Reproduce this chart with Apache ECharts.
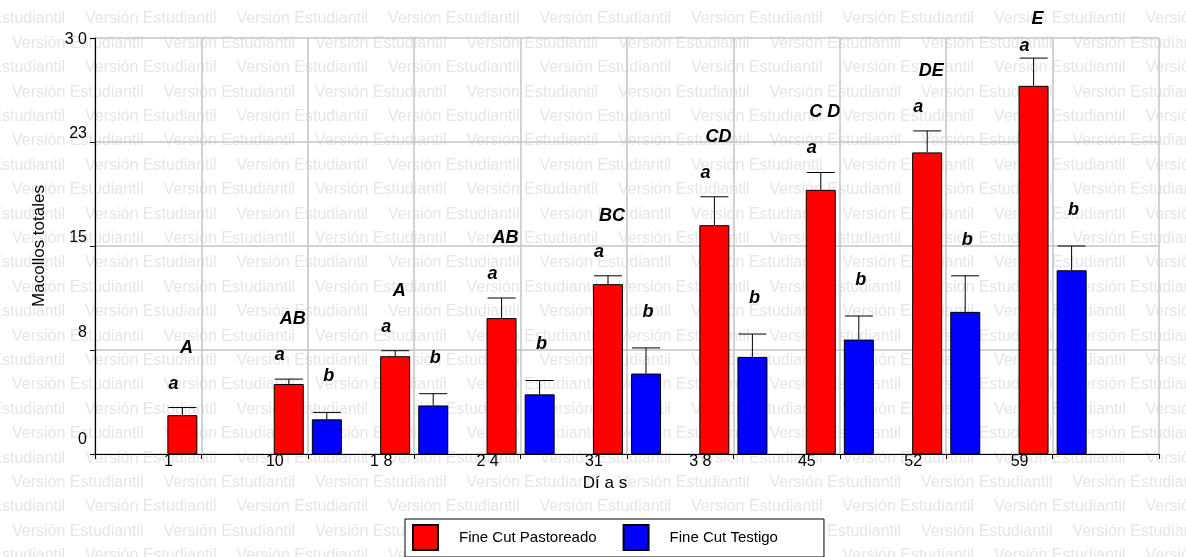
<!DOCTYPE html>
<html>
<head>
<meta charset="utf-8">
<script src="https://cdn.jsdelivr.net/npm/echarts@6/dist/echarts.min.js"></script>
<style>
  html, body { margin: 0; padding: 0; background: #fff; }
  #chart { width: 1186px; height: 557px; }
</style>
</head>
<body>
<div id="chart"></div>
<script>
// Sampling days and their printed tick labels
const days = [1, 10, 18, 24, 31, 38, 45, 52, 59];
const dayLabels = ['1', '10', '1 8', '2 4', '31', '3 8', '45', '52', '59'];
const yTickLabels = ['0', '8', '15', '23', '3 0'];

// Total tillers (mean and standard error) per treatment
const grazedMean = [2.8, 5.05, 7.05, 9.8, 12.25, 16.5, 19.05, 21.75, 26.55];
const grazedSE = [0.55, 0.35, 0.4, 1.45, 0.6, 2.05, 1.25, 1.55, 2.0];
const controlMean = [null, 2.5, 3.5, 4.3, 5.8, 7.0, 8.25, 10.25, 13.25];
const controlSE = [null, 0.5, 0.85, 1.0, 1.85, 1.65, 1.7, 2.6, 1.75];

// Significance letters
const grazedLetters = ['a', 'a', 'a', 'a', 'a', 'a', 'a', 'a', 'a'];
const controlLetters = [null, 'b', 'b', 'b', 'b', 'b', 'b', 'b', 'b'];
const dayLetters = ['A', 'AB', 'A', 'AB', 'BC', 'CD', 'C D', 'DE', 'E'];

const FONT = '"Liberation Sans", Arial, sans-serif';
const LETTER_FONT = 'italic bold 18px ' + FONT;

const categories = [''].concat(days.map(String), ['']);
const pad = arr => [null].concat(arr, [null]);

// Background "Versión Estudiantil" stamp rows
const stamp = [];
for (let r = 0; r < 23; r++) {
  const y = 19 + r * 24.4;
  const start = r % 2 === 0 ? 85 - 151.5 : 12;
  for (let x = start; x < 1186; x += 151.5) {
    stamp.push({
      type: 'text', x: x, y: y, z: -10, silent: true,
      style: { text: 'Versión Estudiantil', fill: '#e6e6e6', fontSize: 16, fontFamily: FONT, verticalAlign: 'middle' }
    });
  }
}

function errorRenderer(offset, means, ses, letters, groupLetters, letterLift) {
  return function (params, api) {
    const i = params.dataIndex;
    if (means[i] == null) return null;
    const base = api.coord([i + 1, means[i]]);
    const top = api.coord([i + 1, means[i] + ses[i]]);
    const cx = base[0] + offset;
    const line = { stroke: '#000', lineWidth: 1 };
    const children = [
      { type: 'line', shape: { x1: cx, y1: base[1], x2: cx, y2: top[1] }, style: line },
      { type: 'line', shape: { x1: cx - 14, y1: top[1], x2: cx + 14, y2: top[1] }, style: line }
    ];
    let letterY = top[1] - letterLift;
    if (groupLetters) {
      let groupY = letterY - 36;
      if (groupY < 19) { groupY = 19; letterY = Math.max(letterY, groupY + 27); }
      children.push({
        type: 'text', x: base[0] - 15, y: groupY,
        style: { text: groupLetters[i], font: LETTER_FONT, fill: '#000', align: 'center', verticalAlign: 'middle' }
      });
    }
    children.push({
      type: 'text', x: cx + (groupLetters ? -9 : 2), y: letterY,
      style: { text: letters[i], font: LETTER_FONT, fill: '#000', align: 'center', verticalAlign: 'middle' }
    });
    return { type: 'group', children: children };
  };
}

// Lift of each y tick label above its grid line
const yLabelRich = {};
[14, 17, 8, 8, -2].forEach((lift, k) => {
  yLabelRich['y' + k] = {
    fontSize: 16, fontFamily: FONT, color: '#000',
    padding: lift >= 0 ? [0, 0, lift * 2, 0] : [-lift * 2, 0, 0, 0]
  };
});

const chart = echarts.init(document.getElementById('chart'), null, { renderer: 'canvas' });
chart.setOption({
  animation: false,
  backgroundColor: '#fff',
  textStyle: { fontFamily: FONT },
  graphic: { elements: stamp },
  grid: { left: 95, right: 27, top: 38, bottom: 103, containLabel: false },
  legend: {
    left: 405, top: 519,
    padding: [5, 46, 6, 7],
    itemGap: 26,
    itemWidth: 25, itemHeight: 25,
    icon: 'rect',
    borderColor: '#000', borderWidth: 1,
    backgroundColor: '#fff',
    textStyle: { fontSize: 15, color: '#000', fontFamily: FONT, padding: [0, 0, 0, 16] },
    data: ['Fine Cut Pastoreado', 'Fine Cut Testigo']
  },
  xAxis: {
    type: 'category',
    data: categories,
    boundaryGap: false,
    name: 'Dí a s',
    nameLocation: 'middle',
    nameGap: 21,
    nameTextStyle: { fontSize: 17, color: '#000', fontFamily: FONT, padding: [0, 44, 0, 0], verticalAlign: 'top' },
    axisLine: { lineStyle: { color: '#000', width: 1 } },
    axisTick: { show: true, length: 5, interval: 0, lineStyle: { color: '#000' } },
    axisLabel: {
      interval: 0, margin: 0, fontSize: 16, color: '#000', fontFamily: FONT,
      padding: [0, 66, 0, 0],
      formatter: (v, idx) => (idx >= 1 && idx <= dayLabels.length ? dayLabels[idx - 1] : '')
    },
    splitLine: { show: true, interval: 0, lineStyle: { color: '#c4c4c4', width: 1.5 } }
  },
  yAxis: {
    type: 'value',
    min: 0, max: 30, interval: 7.5,
    name: 'Macollos totales',
    nameLocation: 'middle',
    nameRotate: 90,
    nameGap: 47,
    nameTextStyle: { fontSize: 17, color: '#000', fontFamily: FONT },
    axisLine: { show: true, lineStyle: { color: '#000', width: 1.2 } },
    axisTick: { show: true, length: 5, lineStyle: { color: '#000' } },
    axisLabel: {
      margin: 8,
      formatter: v => {
        const k = Math.round(v / 7.5);
        return '{y' + k + '|' + yTickLabels[k] + '}';
      },
      rich: yLabelRich
    },
    splitLine: { show: true, lineStyle: { color: '#c4c4c4', width: 1.5 } }
  },
  series: [
    {
      name: 'Fine Cut Pastoreado', type: 'bar',
      data: pad(grazedMean),
      barWidth: 30, barGap: '27%',
      itemStyle: { color: '#ff0000', borderColor: '#000', borderWidth: 1 }
    },
    {
      name: 'Fine Cut Testigo', type: 'bar',
      data: pad(controlMean),
      barWidth: 30, barGap: '27%',
      itemStyle: { color: '#0000ff', borderColor: '#000', borderWidth: 1 }
    },
    {
      type: 'custom', silent: true, z: 5,
      renderItem: errorRenderer(-19, grazedMean, grazedSE, grazedLetters, dayLetters, 24),
      data: days.map((d, i) => [i + 1, grazedMean[i] + grazedSE[i]]),
      encode: { x: 0, y: 1 }
    },
    {
      type: 'custom', silent: true, z: 5,
      renderItem: errorRenderer(19, controlMean, controlSE, controlLetters, null, 36),
      data: days.map((d, i) => [i + 1, controlMean[i] == null ? 0 : controlMean[i] + controlSE[i]]),
      encode: { x: 0, y: 1 }
    }
  ]
});
</script>
</body>
</html>
